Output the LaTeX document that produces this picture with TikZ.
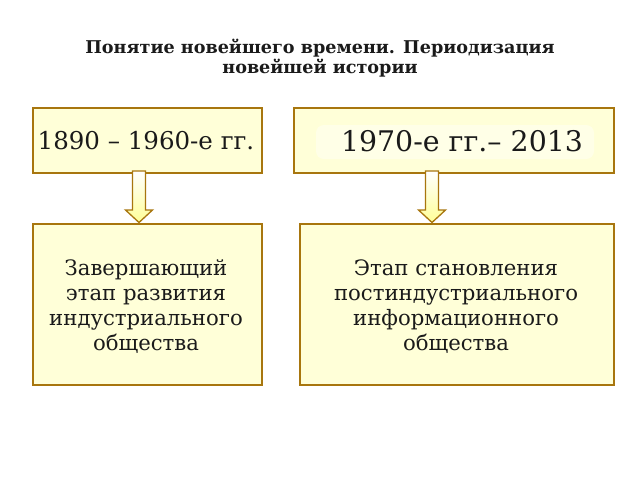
\documentclass[tikz,border=0pt]{standalone}
\usepackage{fontspec}
\setmainfont{DejaVu Serif}
\usetikzlibrary{calc}
\begin{document}
\definecolor{boxfill}{HTML}{FFFFD8}
\definecolor{boxline}{HTML}{A8760E}
\definecolor{txt}{HTML}{1A1A1A}
\begin{tikzpicture}[x=1pt,y=-1pt,
  box/.style={draw=boxline,line width=1.6pt,fill=boxfill,inner sep=0pt,anchor=north west,align=center,text=txt},
  arr/.style={draw=boxline,line width=1.3pt,top color=white,bottom color=boxfill!70!yellow,line join=miter}]
\useasboundingbox (0,0) rectangle (640,480);
\fill[white] (0,0) rectangle (640,480);
\node[font=\bfseries\fontsize{17.6}{20}\selectfont,align=center,text=txt] (title) at (320,58) {Понятие новейшего времени. Периодизация\\новейшей истории};
\node[box,minimum width=229pt,minimum height=65pt] (a) at (32,107) {};
\node[box,minimum width=320pt,minimum height=65pt] (b) at (293,107) {};
\node[box,minimum width=229pt,minimum height=161pt] (c) at (32,223) {};
\node[box,minimum width=314pt,minimum height=161pt] (d) at (299,223) {};
\node[font=\fontsize{24.5}{28}\selectfont,text=txt] (ta) at (146,141) {1890 – 1960-е гг.};
\fill[white,opacity=0.4,rounded corners=8pt] (316,125) rectangle (594,159);
\node[font=\fontsize{28.4}{32}\selectfont,text=txt] (tb) at (462,141) {1970-е гг.– 2013};
\node[font=\fontsize{21.2}{25}\selectfont,align=center,text=txt] (tc) at (146,307) {Завершающий\\этап развития\\индустриального\\общества};
\node[font=\fontsize{21.2}{25}\selectfont,align=center,text=txt] (td) at (456,307) {Этап становления\\постиндустриального\\информационного\\общества};
\coordinate (a1) at (139,171);
\coordinate (b1) at (432,171);
\draw[arr] ($(a1)+(-6.5,0)$) -- ++(0,39) -- ++(-7,0) -- (139,222.5) -- (152.5,210) -- ++(-7,0) -- ++(0,-39) -- cycle;
\draw[arr] ($(b1)+(-6.5,0)$) -- ++(0,39) -- ++(-7,0) -- (432,222.5) -- (445.5,210) -- ++(-7,0) -- ++(0,-39) -- cycle;
\end{tikzpicture}
\end{document}
